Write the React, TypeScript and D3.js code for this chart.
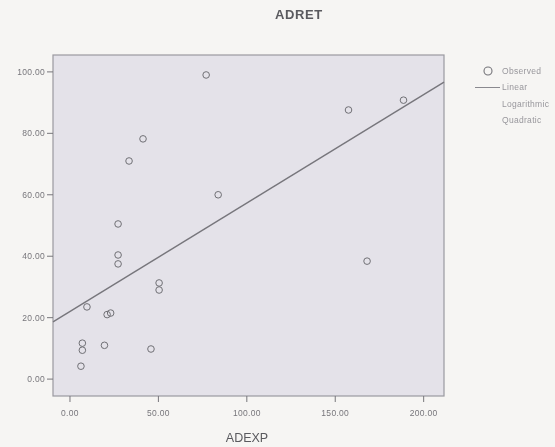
import React, { useEffect, useRef } from 'react';
import * as d3 from 'd3';

const W = 555;
const H = 447;

// observed points
const adexp = [77, 41.3, 33.4, 27.2, 27.2, 27.2, 50.4, 50.4, 9.6, 21, 23, 7, 7, 19.5, 6.2, 45.8, 83.8, 157.5, 188.6, 168];
const adret = [99, 78.2, 71, 50.5, 40.4, 37.5, 31.3, 29.0, 23.5, 21, 21.5, 11.7, 9.4, 11, 4.2, 9.8, 60, 87.6, 90.8, 38.4];

// fitted linear model
const linearFit = { intercept: 22.0, slope: 0.353 };

const xTicks = [0, 50, 100, 150, 200];
const yTicks = [0, 20, 40, 60, 80, 100];
const legendItems = ['Observed', 'Linear', 'Logarithmic', 'Quadratic'];

const App = () => {
  const svgRef = useRef<SVGSVGElement>(null);

  useEffect(() => {
    const svg = d3.select(svgRef.current);
    svg.selectAll('*:not(defs):not(filter):not(feGaussianBlur)').remove();

    const left = 53, right = 444, top = 55, bottom = 396;
    const x = d3.scaleLinear().domain([-9.6, 211.5]).range([left, right]);
    const y = d3.scaleLinear().domain([-5.5, 105.5]).range([bottom, top]);

    const grey = '#77767b';
    const font = 'Liberation Sans, Arial, sans-serif';

    svg.append('rect').attr('width', W).attr('height', H).attr('fill', '#f6f5f3');

    const g = svg.append('g').attr('filter', 'url(#soft)');

    // plot area
    g.append('rect')
      .attr('x', left).attr('y', top)
      .attr('width', right - left).attr('height', bottom - top)
      .attr('fill', '#e4e2e9')
      .attr('stroke', '#9a99a0')
      .attr('stroke-width', 1.2);

    // title
    g.append('text')
      .attr('x', 299).attr('y', 19)
      .attr('text-anchor', 'middle')
      .style('font', `bold 13px ${font}`)
      .attr('letter-spacing', 0.6)
      .attr('fill', '#5a5a5e')
      .text('ADRET');

    // y axis
    const yAxis = g.append('g');
    yTicks.forEach(t => {
      yAxis.append('line')
        .attr('x1', left - 6).attr('x2', left)
        .attr('y1', y(t)).attr('y2', y(t))
        .attr('stroke', grey);
      yAxis.append('text')
        .attr('x', left - 8).attr('y', y(t))
        .attr('dy', '0.35em')
        .attr('text-anchor', 'end')
        .style('font', `8.5px ${font}`)
        .attr('letter-spacing', 0.3)
        .attr('fill', grey)
        .text(d3.format('.2f')(t));
    });

    // x axis
    const xAxis = g.append('g');
    xTicks.forEach(t => {
      xAxis.append('line')
        .attr('x1', x(t)).attr('x2', x(t))
        .attr('y1', bottom).attr('y2', bottom + 6)
        .attr('stroke', grey);
      xAxis.append('text')
        .attr('x', x(t)).attr('y', bottom + 20)
        .attr('text-anchor', 'middle')
        .style('font', `8.5px ${font}`)
        .attr('letter-spacing', 0.3)
        .attr('fill', grey)
        .text(d3.format('.2f')(t));
    });

    g.append('text')
      .attr('x', 247).attr('y', 442)
      .attr('text-anchor', 'middle')
      .style('font', `12.5px ${font}`)
      .attr('fill', '#5a5a5e')
      .text('ADEXP');

    // linear fit
    const dom = x.domain();
    const line = d3.line<number>()
      .x(d => x(d))
      .y(d => y(linearFit.intercept + linearFit.slope * d));
    g.append('path')
      .attr('d', line(dom))
      .attr('fill', 'none')
      .attr('stroke', '#77767c')
      .attr('stroke-width', 1.4);

    // observed
    g.append('g')
      .selectAll('circle')
      .data(adexp.map((v, i) => [v, adret[i]]))
      .join('circle')
      .attr('cx', d => x(d[0]))
      .attr('cy', d => y(d[1]))
      .attr('r', 3.3)
      .attr('fill', 'none')
      .attr('stroke', '#707075')
      .attr('stroke-width', 1);

    // legend
    const lg = g.append('g').attr('transform', 'translate(475,71)');
    legendItems.forEach((name, i) => {
      const ly = i * 16.5;
      if (i === 0) {
        lg.append('circle').attr('cx', 13).attr('cy', ly).attr('r', 4)
          .attr('fill', 'none').attr('stroke', '#747479').attr('stroke-width', 1.1);
      }
      if (i === 1) {
        lg.append('line').attr('x1', 0).attr('x2', 25).attr('y1', ly).attr('y2', ly)
          .attr('stroke', '#8a898f');
      }
      lg.append('text')
        .attr('x', 27).attr('y', ly).attr('dy', '0.35em')
        .style('font', `8.5px ${font}`)
        .attr('letter-spacing', 0.3)
        .attr('fill', '#98979c')
        .text(name);
    });
  }, []);

  return (
    <svg ref={svgRef} width={W} height={H}
      style={{ position: 'absolute', left: 0, top: 0 }}>
      <defs>
        <filter id="soft">
          <feGaussianBlur stdDeviation="0.35" />
        </filter>
      </defs>
    </svg>
  );
};

export default App;
